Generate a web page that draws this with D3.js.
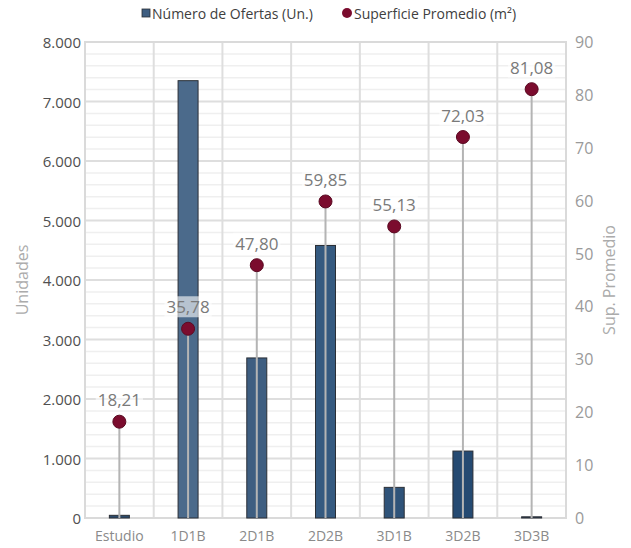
<!DOCTYPE html>
<html><head><meta charset="utf-8">
<script src="https://cdn.jsdelivr.net/npm/d3@7"></script>
<style>body{margin:0;background:#fff;font-family:"Open Sans",sans-serif;}</style>
</head><body><svg id="c" width="631" height="548"></svg>
<script>
const categories = ["Estudio","1D1B","2D1B","2D2B","3D1B","3D2B","3D3B"];
const ofertas = [45, 7350, 2690, 4580, 515, 1125, 20];
const superficie = [18.21, 35.78, 47.80, 59.85, 55.13, 72.03, 81.08];
const leftTicks = [0,1000,2000,3000,4000,5000,6000,7000,8000];
const rightTicks = [0,10,20,30,40,50,60,70,80,90];
const barColors = ["#2c4b6c","#4b6a8b","#3e5e81","#355a80","#2f5379","#254a72","#2a4869"];

const svg = d3.select("#c");
const L = 85, R = 566, T = 42, B = 518;
const x = d3.scaleBand().domain(categories).range([L, R]).padding(0);
const yL = d3.scaleLinear().domain([0, 8000]).range([B, T]);
const yR = d3.scaleLinear().domain([0, 90]).range([B, T]);
const fmtL = v => d3.format(",")(v).replace(/,/g, ".");
const fmtR = v => v.toFixed(2).replace(".", ",");

// minor grid
svg.append("g").selectAll("line").data(d3.range(0, 8001, 200).filter(v => v % 1000 !== 0))
  .join("line").attr("x1", L).attr("x2", R).attr("y1", d => yL(d)).attr("y2", d => yL(d))
  .attr("stroke", "#efefef").attr("stroke-width", 1.5);
// major grid
svg.append("g").selectAll("line").data(leftTicks)
  .join("line").attr("x1", L).attr("x2", R).attr("y1", d => yL(d)).attr("y2", d => yL(d))
  .attr("stroke", "#dedede").attr("stroke-width", 2);
// vertical grid
svg.append("g").selectAll("line").data(categories.slice(1))
  .join("line").attr("x1", d => x(d)).attr("x2", d => x(d)).attr("y1", T).attr("y2", B)
  .attr("stroke", "#dedede").attr("stroke-width", 2);
svg.append("rect").attr("x", L).attr("y", T).attr("width", R - L).attr("height", B - T)
  .attr("fill", "none").attr("stroke", "#dadada").attr("stroke-width", 2);

// bars
const bw = 20;
svg.append("g").selectAll("rect").data(categories)
  .join("rect")
  .attr("x", d => x(d) + x.bandwidth() / 2 - bw / 2)
  .attr("y", (d, i) => yL(ofertas[i]))
  .attr("width", bw)
  .attr("height", (d, i) => B - yL(ofertas[i]))
  .attr("fill", (d, i) => barColors[i])
  .attr("stroke", "#2a2f36").attr("stroke-width", 1);

// lollipop stems
svg.append("g").selectAll("line").data(categories)
  .join("line")
  .attr("x1", d => x(d) + x.bandwidth() / 2).attr("x2", d => x(d) + x.bandwidth() / 2)
  .attr("y1", (d, i) => yR(superficie[i])).attr("y2", B)
  .attr("stroke", "#b4b4b4").attr("stroke-width", 2);

// points
svg.append("g").selectAll("circle").data(categories)
  .join("circle")
  .attr("cx", d => x(d) + x.bandwidth() / 2)
  .attr("cy", (d, i) => yR(superficie[i]))
  .attr("r", 6.5)
  .attr("fill", "#7b0c2e").attr("stroke", "#5a0a22").attr("stroke-width", 1);

// value labels
const lg = svg.append("g");
categories.forEach((c, i) => {
  const cx = x(c) + x.bandwidth() / 2, cy = yR(superficie[i]) - 22;
  const t = lg.append("text").attr("x", cx).attr("y", cy).attr("text-anchor", "middle")
    .attr("dominant-baseline", "central").attr("font-size", 17).attr("fill", "#7a7a7a")
    .text(fmtR(superficie[i]));
  const bb = t.node().getBBox();
  lg.insert("rect", () => t.node()).attr("x", bb.x - 2).attr("y", bb.y + 1)
    .attr("width", bb.width + 4).attr("height", bb.height - 2)
    .attr("fill", "#ffffff").attr("opacity", 0.6);
});

// left axis labels
svg.append("g").selectAll("text").data(leftTicks)
  .join("text").attr("x", 81).attr("y", d => yL(d)).attr("text-anchor", "end")
  .attr("dominant-baseline", "central").attr("font-size", 15).attr("fill", "#505050")
  .text(fmtL);
// right axis labels
svg.append("g").selectAll("text").data(rightTicks)
  .join("text").attr("x", 575).attr("y", d => yR(d)).attr("text-anchor", "start")
  .attr("dominant-baseline", "central").attr("font-size", 16).attr("fill", "#9a9a9a")
  .text(d => d);
// x labels
svg.append("g").selectAll("text").data(categories)
  .join("text").attr("x", d => x(d) + x.bandwidth() / 2).attr("y", 535)
  .attr("text-anchor", "middle").attr("dominant-baseline", "central")
  .attr("font-size", 14).attr("fill", "#8a8a8a").text(d => d);

// axis titles
svg.append("text").attr("transform", `translate(22,${(T + B) / 2}) rotate(-90)`)
  .attr("text-anchor", "middle").attr("dominant-baseline", "central")
  .attr("font-size", 16).attr("fill", "#ababab").text("Unidades");
svg.append("text").attr("transform", `translate(609,${(T + B) / 2}) rotate(-90)`)
  .attr("text-anchor", "middle").attr("dominant-baseline", "central")
  .attr("font-size", 16).attr("fill", "#ababab").text("Sup. Promedio");

// legend
const leg = svg.append("g");
leg.append("rect").attr("x", 142).attr("y", 9).attr("width", 8).attr("height", 8)
  .attr("fill", "#3e5e81").attr("stroke", "#2a2f36").attr("stroke-width", 0.8);
leg.append("text").attr("x", 152).attr("y", 13).attr("dominant-baseline", "central")
  .attr("font-size", 14).attr("fill", "#404040").text("Número de Ofertas (Un.)");
leg.append("circle").attr("cx", 347).attr("cy", 13).attr("r", 5)
  .attr("fill", "#7b0c2e");
leg.append("text").attr("x", 354).attr("y", 13).attr("dominant-baseline", "central")
  .attr("font-size", 14).attr("fill", "#404040").text("Superficie Promedio (m²)");
</script></body></html>
